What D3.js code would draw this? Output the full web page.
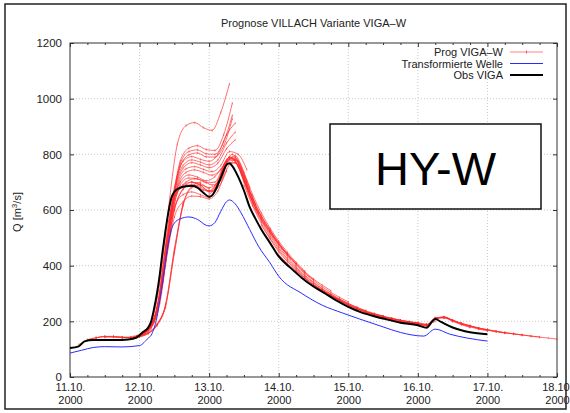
<!DOCTYPE html>
<html>
<head>
<meta charset="utf-8">
<script src="https://cdn.jsdelivr.net/npm/d3@7"></script>
<style>
  body { margin: 0; background: #fff; }
  svg { font-family: "Liberation Sans", Arial, sans-serif; }
  .tick text { font-size: 11.5px; fill: #222; }
</style>
</head>
<body>
<div id="chart"></div>
<script>
const w = 570;
const h = 413;
const m = { left: 70, right: 13, top: 43, bottom: 36 };

// x axis: hours since 11.10.2000 00:00
const dayLabels = ['11.10.', '12.10.', '13.10.', '14.10.', '15.10.', '16.10.', '17.10.', '18.10.'];
const yearLabel = '2000';
const yTicks = [0, 200, 400, 600, 800, 1000, 1200];

// Obs VIGA
const obsHours = [0, 3, 5, 8, 12, 16, 20, 23, 25, 27, 28, 29, 30, 31, 32, 33, 34, 35, 36, 38, 40, 42, 44, 46, 48, 49, 50, 52, 54, 55, 56, 58, 60, 62, 64, 66, 69, 72, 76, 80, 84, 88, 92, 96, 100, 104, 108, 114, 120, 123, 125, 126, 128, 132, 138, 144];
const obsQ = [104, 110, 128, 133, 133, 133, 135, 142, 160, 178, 200, 245, 300, 370, 455, 530, 595, 645, 665, 680, 685, 687, 680, 662, 648, 652, 668, 715, 762, 768, 758, 720, 670, 610, 568, 530, 482, 433, 393, 356, 325, 300, 274, 252, 234, 221, 210, 195, 186, 177, 200, 208, 198, 178, 161, 154];

// Transformierte Welle
const trHours = [0, 4, 8, 12, 18, 24, 27, 28, 29, 30, 31, 32, 33, 34, 35, 36, 38, 41, 44, 47, 48, 50, 52, 54, 55, 57, 59, 62, 65, 69, 72, 80, 87, 94, 100, 108, 114, 122, 126, 131, 137, 144];
const trQ = [86, 96, 106, 109, 108, 113, 140, 150, 175, 215, 277, 345, 420, 485, 530, 553, 568, 575, 566, 545, 543, 555, 595, 630, 636, 622, 590, 530, 470, 410, 362, 300, 258, 230, 208, 180, 160, 147, 172, 154, 140, 129];

// Prog VIGA-W: start hour of each forecast, values every 3 h
const progStep = 3;
const progStart = [3, 6, 9, 12, 18, 22, 23, 23, 23, 24, 24, 24, 25, 25, 26, 25, 26, 27, 28, 30, 33, 36, 42, 48, 54, 60, 66, 72, 78, 84, 90, 96, 102, 108, 114, 120];
const progQ = [
  [116, 133, 141, 145, 144, 142, 142, 145, 157, 185, 250],
  [134, 141, 145, 144, 142, 142, 146, 160, 190, 262, 460, 625],
  [140, 146, 146, 143, 142, 146, 158, 188, 258, 450, 620, 685, 700],
  [143, 145, 143, 142, 145, 156, 185, 255, 445, 615, 680, 690, 675],
  [141, 143, 150, 170, 235, 420, 600, 675, 690, 682, 665, 680, 740],
  [146, 160, 195, 340, 610, 835, 903, 914, 896, 886, 950, 1053],
  [146, 160, 205, 350, 600, 775, 822, 831, 817, 814, 870, 984],
  [146, 158, 200, 340, 590, 765, 810, 816, 802, 800, 845, 940],
  [147, 160, 205, 345, 585, 755, 798, 805, 791, 790, 830, 928],
  [150, 175, 250, 470, 680, 775, 792, 782, 775, 800, 870, 912],
  [149, 172, 245, 460, 670, 760, 780, 772, 762, 780, 840, 880],
  [149, 170, 240, 450, 660, 750, 770, 762, 752, 768, 820, 852],
  [155, 185, 290, 520, 690, 748, 756, 746, 738, 760, 810, 800, 745],
  [154, 182, 280, 510, 680, 735, 744, 735, 725, 745, 790, 760, 690, 620],
  [165, 210, 360, 590, 700, 726, 718, 705, 720, 760, 785, 735, 655, 590],
  [152, 175, 265, 480, 660, 700, 712, 705, 690, 705, 785, 775, 700],
  [160, 200, 340, 570, 690, 715, 712, 698, 700, 760, 800, 750, 680],
  [170, 230, 420, 600, 675, 700, 695, 680, 700, 765, 770, 705, 630, 570, 520, 475, 440],
  [185, 300, 560, 665, 690, 688, 672, 668, 720, 790, 755, 680, 605, 550, 505, 462, 425],
  [245, 410, 575, 630, 650, 648, 640, 668, 745, 780, 720, 640, 575, 525, 478, 440, 405],
  [460, 610, 655, 665, 655, 645, 690, 770, 795, 735, 655, 590, 535, 488, 448, 412, 380],
  [645, 690, 700, 690, 668, 700, 775, 785, 715, 640, 578, 528, 482, 442, 405, 375, 350],
  [700, 688, 668, 705, 780, 790, 725, 645, 580, 528, 480, 442, 408, 378, 352, 330, 310],
  [655, 695, 770, 780, 710, 630, 565, 515, 468, 432, 400, 372, 347, 324, 304, 286, 270],
  [765, 770, 700, 620, 560, 508, 462, 425, 394, 366, 341, 318, 298, 280, 264, 250, 238],
  [690, 615, 552, 500, 455, 420, 390, 363, 338, 316, 297, 280, 264, 250, 238, 228, 219],
  [545, 496, 450, 415, 386, 358, 333, 312, 293, 276, 260, 246, 235, 226, 218, 210, 203],
  [440, 408, 382, 356, 331, 310, 292, 275, 259, 245, 234, 225, 217, 210, 204, 198, 194],
  [380, 355, 330, 312, 293, 276, 260, 246, 235, 226, 218, 211, 204, 199, 195, 190, 200],
  [332, 311, 292, 276, 259, 245, 234, 225, 217, 210, 204, 198, 194, 188, 210, 212, 200],
  [292, 275, 259, 245, 233, 224, 216, 209, 203, 197, 193, 187, 212, 214, 200, 188, 178],
  [255, 241, 230, 221, 213, 206, 200, 195, 191, 186, 208, 215, 203, 190, 180, 172, 166],
  [230, 221, 213, 206, 200, 195, 191, 187, 210, 216, 204, 192, 182, 174, 168, 163, 158],
  [212, 205, 199, 194, 190, 186, 209, 214, 203, 192, 183, 175, 169, 164, 159, 155, 151],
  [198, 193, 189, 185, 210, 215, 204, 193, 184, 176, 170, 164, 159, 155, 151, 147, 144],
  [190, 184, 212, 214, 203, 193, 184, 176, 170, 164, 159, 155, 151, 147, 143, 140, 136]
];

const legendItems = [
  { label: 'Prog VIGA\u2013W', color: '#ff3030', width: 1 },
  { label: 'Transformierte Welle', color: '#2b2bff', width: 1 },
  { label: 'Obs VIGA', color: '#000', width: 2 }
];

const svg = d3.select('#chart').append('svg').attr('width', w).attr('height', h);

// outer frame
svg.append('rect')
  .attr('x', 5).attr('y', 4).attr('width', 561).attr('height', 405)
  .attr('fill', '#fff').attr('stroke', '#222').attr('stroke-width', 1.5);

const xScale = d3.scaleLinear().domain([0, 168]).range([m.left, w - m.right]);
const yScale = d3.scaleLinear().domain([0, 1200]).range([h - m.bottom, m.top]);

const dayTicks = d3.range(0, 169, 24);
const minorTicks = d3.range(0, 169, 6).filter((t) => t % 24 !== 0);

// grid
const grid = svg.append('g').attr('stroke', '#bbb').attr('stroke-dasharray', '1,2').attr('stroke-width', 0.8);
grid.selectAll('.gx').data(dayTicks.slice(1, -1)).enter().append('line')
  .attr('x1', (d) => xScale(d)).attr('x2', (d) => xScale(d))
  .attr('y1', yScale(0)).attr('y2', yScale(1200));
grid.selectAll('.gy').data(yTicks.slice(1, -1)).enter().append('line')
  .attr('y1', (d) => yScale(d)).attr('y2', (d) => yScale(d))
  .attr('x1', xScale(0)).attr('x2', xScale(168));

// axes (gnuplot style: ticks inward on all four sides)
const xAxis = d3.axisBottom(xScale).tickValues(dayTicks).tickSize(-4).tickFormat('');
const gx = svg.append('g').attr('transform', `translate(0, ${yScale(0)})`).call(xAxis);
gx.selectAll('.tick').append('text')
  .attr('text-anchor', 'middle').attr('fill', '#222').style('font-size', '11px')
  .each(function (d, i) {
    const t = d3.select(this);
    t.append('tspan').attr('x', 0).attr('y', 14).text(dayLabels[i]);
    t.append('tspan').attr('x', 0).attr('y', 27).text(yearLabel);
  });
svg.append('g').attr('transform', `translate(0, ${yScale(0)})`)
  .call(d3.axisBottom(xScale).tickValues(minorTicks).tickSize(-2).tickFormat(''));
svg.append('g').attr('transform', `translate(0, ${yScale(1200)})`)
  .call(d3.axisTop(xScale).tickValues(dayTicks).tickSize(-4).tickFormat(''));
svg.append('g').attr('transform', `translate(0, ${yScale(1200)})`)
  .call(d3.axisTop(xScale).tickValues(minorTicks).tickSize(-2).tickFormat(''));

svg.append('g').attr('transform', `translate(${xScale(0)}, 0)`)
  .call(d3.axisLeft(yScale).tickValues(yTicks).tickSize(-4).tickPadding(8).tickFormat(d3.format('d')));
svg.append('g').attr('transform', `translate(${xScale(168)}, 0)`)
  .call(d3.axisRight(yScale).tickValues(yTicks).tickSize(-4).tickFormat(''));

svg.selectAll('.domain').remove();
svg.selectAll('.tick line').attr('stroke', '#333');

svg.append('rect')
  .attr('x', xScale(0)).attr('y', yScale(1200))
  .attr('width', xScale(168) - xScale(0)).attr('height', yScale(0) - yScale(1200))
  .attr('fill', 'none').attr('stroke', '#333').attr('stroke-width', 1);

// title & y label
svg.append('text').attr('x', (xScale(0) + xScale(168)) / 2).attr('y', 27)
  .attr('text-anchor', 'middle').style('font-size', '11px').attr('fill', '#222')
  .text('Prognose VILLACH Variante VIGA\u2013W');

const yl = svg.append('text').attr('transform', 'translate(21, 212) rotate(-90)')
  .attr('text-anchor', 'middle').style('font-size', '11px').attr('fill', '#222');
yl.append('tspan').text('Q [m');
yl.append('tspan').attr('dy', -4).style('font-size', '8px').text('3');
yl.append('tspan').attr('dy', 4).text('/s]');

// lines
const line = d3.line().x((d) => xScale(d[0])).y((d) => yScale(d[1])).curve(d3.curveMonotoneX);

const progG = svg.append('g');
progQ.forEach((q, i) => {
  const pts = q.map((v, j) => [progStart[i] + j * progStep, v]);
  progG.append('path').datum(pts).attr('d', line)
    .attr('fill', 'none').attr('stroke', '#ff2a2a').attr('stroke-width', 0.9).attr('stroke-opacity', 0.75);
  progG.selectAll(null).data(pts).enter().append('line')
    .attr('x1', (d) => xScale(d[0])).attr('x2', (d) => xScale(d[0]))
    .attr('y1', (d) => yScale(d[1]) - 1.2).attr('y2', (d) => yScale(d[1]) + 1.2)
    .attr('stroke', '#ff2a2a').attr('stroke-width', 0.8).attr('stroke-opacity', 0.6);
});

svg.append('path').datum(trHours.map((t, i) => [t, trQ[i]])).attr('d', line)
  .attr('fill', 'none').attr('stroke', '#2b2bff').attr('stroke-width', 1);

svg.append('path').datum(obsHours.map((t, i) => [t, obsQ[i]])).attr('d', line)
  .attr('fill', 'none').attr('stroke', '#000').attr('stroke-width', 2);

// legend
const lg = svg.append('g');
legendItems.forEach((d, i) => {
  const yy = 52 + i * 11.5;
  lg.append('text').attr('x', 503).attr('y', yy + 4).attr('text-anchor', 'end')
    .style('font-size', '11px').attr('fill', '#222').text(d.label);
  lg.append('line').attr('x1', 510).attr('x2', 543).attr('y1', yy).attr('y2', yy)
    .attr('stroke', d.color).attr('stroke-width', d.width).attr('stroke-opacity', i === 0 ? 0.6 : 1);
  if (i === 0) {
    lg.append('line').attr('x1', 526.5).attr('x2', 526.5).attr('y1', yy - 1.5).attr('y2', yy + 1.5)
      .attr('stroke', d.color).attr('stroke-width', 0.8);
  }
});

// HY-W box
svg.append('rect').attr('x', 330).attr('y', 124).attr('width', 211).attr('height', 85)
  .attr('fill', '#fff').attr('stroke', '#111').attr('stroke-width', 1.5);
svg.append('text').attr('x', 435.5).attr('y', 185).attr('text-anchor', 'middle')
  .style('font-size', '47px').attr('fill', '#000').text('HY-W');
</script>
</body>
</html>
